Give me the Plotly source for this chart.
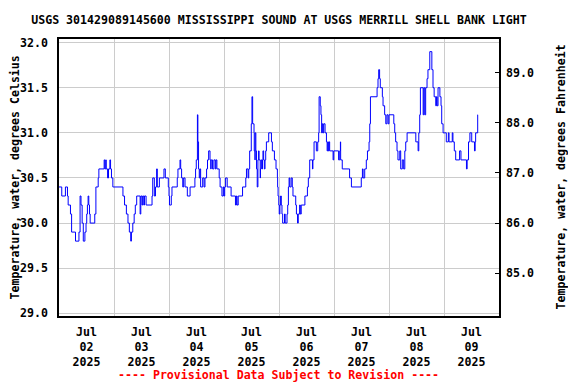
import pandas as pd
import plotly.graph_objects as go

# hours since 2025-07-02 00:00 at which the reading changes, and the reading (deg C)
hours = [
    0.0, 1.2, 2.8, 3.7, 4.0, 5.0, 5.5, 7.2, 8.7, 9.2, 9.6, 10.1, 10.6, 11.3, 11.8, 12.1,
    12.4, 12.7, 13.0, 13.3, 13.6, 15.6, 16.1, 17.1, 17.4, 19.7, 20.0, 20.4, 20.6, 21.2,
    21.6, 22.2, 22.5, 22.9, 23.5, 27.9, 28.6, 29.4, 30.1, 30.7, 31.3, 31.6, 32.2, 32.8,
    33.3, 33.9, 35.4, 35.7, 36.2, 36.5, 37.0, 37.3, 38.0, 40.6, 40.9, 41.6, 42.1, 42.6,
    42.9, 43.8, 45.8, 46.4, 47.7, 48.0, 48.2, 49.0, 49.3, 51.6, 51.9, 52.8, 53.1, 53.5,
    54.0, 54.4, 55.0, 56.0, 57.2, 59.3, 59.6, 59.9, 60.4, 60.6, 60.9, 61.2, 61.5, 61.8,
    62.7, 63.3, 63.7, 64.4, 64.8, 65.3, 65.9, 66.2, 66.4, 67.0, 67.6, 68.2, 68.5, 68.9,
    69.9, 70.3, 71.1, 71.7, 72.0, 72.3, 72.7, 73.4, 75.1, 77.0, 77.4, 77.7, 78.2, 80.1,
    81.5, 81.8, 82.5, 82.8, 83.2, 83.9, 84.2, 84.5, 85.1, 85.2, 85.5, 85.6, 85.9, 86.2,
    86.5, 86.8, 87.1, 87.3, 87.8, 87.9, 88.2, 88.5, 88.8, 89.0, 89.3, 89.6, 89.9, 90.2,
    90.5, 91.5, 92.7, 93.1, 94.0, 94.7, 95.3, 95.4, 95.6, 95.9, 96.1, 96.4, 96.7, 97.0,
    97.3, 97.6, 98.4, 98.7, 99.5, 99.8, 100.1, 100.4, 100.7, 101.3, 101.8, 102.1, 103.3,
    103.6, 104.1, 104.4, 105.0, 105.3, 105.7, 107.3, 108.4, 108.8, 109.4, 110.6, 110.8,
    111.3, 112.3, 112.9, 113.3, 113.5, 114.0, 114.3, 114.6, 114.9, 115.2, 115.5, 116.1,
    116.7, 117.0, 117.3, 117.5, 117.8, 118.1, 119.6, 119.9, 122.0, 122.5, 122.8, 122.9,
    123.6, 126.8, 127.6, 131.9, 132.4, 132.7, 133.4, 134.1, 134.6, 135.3, 135.6, 135.9,
    138.8, 139.2, 139.5, 139.9, 140.2, 141.1, 141.4, 142.1, 142.6, 143.1, 143.6, 144.0,
    146.1, 146.5, 146.9, 147.5, 147.9, 148.7, 149.1, 149.8, 150.4, 150.9, 151.3, 151.9,
    155.7, 156.7, 157.0, 157.4, 157.7, 158.9, 159.2, 159.6, 160.0, 160.6, 161.0, 161.8,
    162.7, 163.2, 163.7, 164.4, 164.7, 165.0, 165.4, 166.2, 166.7, 167.0, 167.6, 169.0,
    169.9, 170.2, 171.6, 171.9, 172.5, 173.1, 174.8, 175.4, 177.8, 178.1, 178.7, 179.3,
    180.1, 181.3, 181.6, 181.8, 182.7, 182.8,
]
temps_c = [
    30.4, 30.3, 30.4, 30.3, 30.2, 30.1, 29.9, 29.8, 29.9, 30.3, 30.2, 30.0, 29.8, 29.9, 30.0, 30.1,
    30.2, 30.3, 30.2, 30.1, 30.0, 30.1, 30.4, 30.5, 30.6, 30.7, 30.6, 30.7, 30.6, 30.5,
    30.6, 30.7, 30.6, 30.5, 30.4, 30.3, 30.2, 30.1, 30.0, 29.9, 29.8, 29.9, 30.0, 30.1,
    30.2, 30.3, 30.1, 30.3, 30.2, 30.3, 30.2, 30.3, 30.2, 30.3, 30.5, 30.3, 30.4, 30.6,
    30.4, 30.5, 30.6, 30.5, 30.4, 30.3, 30.2, 30.3, 30.4, 30.5, 30.6, 30.7, 30.6, 30.5,
    30.4, 30.5, 30.4, 30.3, 30.4, 30.5, 30.6, 30.7, 31.2, 30.9, 30.6, 30.5, 30.6, 30.4,
    30.5, 30.4, 30.5, 30.6, 30.7, 30.8, 30.7, 30.6, 30.7, 30.6, 30.7, 30.6, 30.7, 30.6,
    30.5, 30.4, 30.3, 30.4, 30.3, 30.4, 30.5, 30.4, 30.3, 30.2, 30.3, 30.2, 30.3, 30.4,
    30.5, 30.6, 30.5, 30.6, 30.8, 31.1, 31.4, 31.1, 31.0, 30.8, 30.7, 31.0, 30.8, 30.6,
    30.4, 30.7, 30.8, 30.7, 30.5, 30.6, 30.7, 30.6, 30.7, 30.8, 30.7, 30.6, 30.7, 30.8,
    30.9, 31.0, 30.9, 30.8, 30.7, 30.6, 30.5, 30.4, 30.3, 30.2, 30.1, 30.2, 30.3, 30.2,
    30.1, 30.0, 30.1, 30.0, 30.1, 30.2, 30.4, 30.5, 30.4, 30.5, 30.4, 30.3, 30.2,
    30.1, 30.0, 30.1, 30.2, 30.1, 30.2, 30.3, 30.4, 30.5, 30.7, 30.6, 30.7,
    30.9, 30.8, 30.9, 31.0, 31.4, 31.3, 31.2, 31.0, 31.1, 31.0, 31.1, 31.0,
    30.9, 30.8, 30.9, 30.8, 30.9, 30.8, 30.7, 30.8, 30.7, 30.8, 30.9, 30.7,
    30.6, 30.5, 30.4, 30.5, 30.6, 30.5, 30.6, 30.7, 30.8, 30.9, 31.1, 31.4,
    31.5, 31.6, 31.7, 31.6, 31.5, 31.4, 31.3, 31.2, 31.1, 31.2, 31.1, 31.2,
    31.1, 31.0, 30.9, 30.8, 30.7, 30.8, 30.6, 30.7, 30.6, 30.8, 30.9, 31.0,
    30.9, 30.8, 31.0, 31.2, 31.5, 31.2, 31.5, 31.2, 31.5, 31.6, 31.7, 31.9,
    31.7, 31.5, 31.4, 31.3, 31.4, 31.3, 31.5, 31.4, 31.3, 31.1, 31.0, 30.9,
    31.0, 30.9, 31.0, 30.9, 30.8, 30.7, 30.8, 30.7, 30.6, 30.7, 30.9, 31.0,
    30.9, 30.8, 30.9, 31.0, 31.2, 31.2,
]

day_labels = ["Jul<br>02<br>2025", "Jul<br>03<br>2025", "Jul<br>04<br>2025", "Jul<br>05<br>2025",
              "Jul<br>06<br>2025", "Jul<br>07<br>2025", "Jul<br>08<br>2025", "Jul<br>09<br>2025"]
celsius_ticks = [29.0, 29.5, 30.0, 30.5, 31.0, 31.5, 32.0]
fahrenheit_ticks = [85.0, 86.0, 87.0, 88.0, 89.0]

title_text = "USGS 301429089145600 MISSISSIPPI SOUND AT USGS MERRILL SHELL BANK LIGHT"
left_title = "Temperature, water, degrees Celsius"
right_title = "Temperature, water, degrees Fahrenheit"
footer_text = "---- Provisional Data Subject to Revision ----"

base = pd.Timestamp("2025-07-02 00:00")
times = [base + pd.Timedelta(hours=h) for h in hours]
noon_ticks = [base + pd.Timedelta(days=i, hours=12) for i in range(len(day_labels))]
midnight_grid = [base + pd.Timedelta(days=i) for i in range(1, len(day_labels))]

y_c_range = [28.97, 32.04]
y_f_range = [c * 1.8 + 32 for c in y_c_range]

FONT = "DejaVu Sans Mono"
fs = 11.6

# the page body has an 8px margin, so the figure is drawn 8px in from the window edge
OFF = 8
W, H = 576 - OFF, 384 - OFF
L, T = 51, 31
R, B = W - 491, H - 308
PW, PH = W - L - R, H - T - B


def px_x(page_x):
    return (page_x - OFF - L) / PW


def px_y(page_y):
    return 1 - (page_y - OFF - T) / PH


fig = go.Figure()
fig.add_trace(go.Scatter(x=times, y=temps_c, mode="lines", line=dict(color="#0000ff", width=1, shape="hv"),
                         showlegend=False, hoverinfo="skip"))
fig.add_trace(go.Scatter(x=[times[0]], y=[temps_c[0] * 1.8 + 32], yaxis="y2", mode="lines",
                         line=dict(color="rgba(0,0,0,0)"), showlegend=False, hoverinfo="skip"))

fig.update_layout(
    width=W, height=H,
    margin=dict(l=L, r=R, t=T, b=B, autoexpand=False),
    paper_bgcolor="white", plot_bgcolor="white",
    font=dict(family=FONT, size=fs, color="black", weight="bold"),
    title=dict(text=title_text, x=(279 - OFF) / W, xref="container", xanchor="center",
               y=1 - (20 - OFF) / H, yanchor="middle",
               font=dict(family=FONT, size=fs, color="black", weight="bold")),
    xaxis=dict(
        range=[base, base + pd.Timedelta(days=8)], automargin=False,
        tickvals=noon_ticks, ticktext=day_labels, tickmode="array",
        showgrid=False, ticks="", ticklabelstandoff=4,
        showline=True, linecolor="black", linewidth=1.5, mirror=True,
        zeroline=False,
        minor=dict(tickmode="array", tickvals=midnight_grid, showgrid=True, gridcolor="#cccccc",
                   gridwidth=1, ticks=""),
        tickfont=dict(family=FONT, size=fs, weight="bold"),
    ),
    yaxis=dict(
        range=y_c_range, tickvals=celsius_ticks, ticktext=[f"{v:.1f}" for v in celsius_ticks],
        tickmode="array", showgrid=True, gridcolor="#cccccc", gridwidth=1, ticks="", automargin=False,
        ticklabelstandoff=7, showline=True, linecolor="black", linewidth=1.5, mirror=True,
        zeroline=False, tickfont=dict(family=FONT, size=fs, weight="bold"),
    ),
    yaxis2=dict(
        range=y_f_range, overlaying="y", side="right", tickvals=fahrenheit_ticks,
        ticktext=[f"{v:.1f}" for v in fahrenheit_ticks], tickmode="array", automargin=False,
        showgrid=False, ticks="inside", ticklen=4, tickcolor="black", tickwidth=1,
        ticklabelstandoff=6, zeroline=False, showline=False,
        tickfont=dict(family=FONT, size=fs, weight="bold"),
    ),
    annotations=[
        dict(text=left_title, xref="paper", yref="paper", x=px_x(14), y=0.5,
             xanchor="center", yanchor="middle", textangle=-90, showarrow=False,
             font=dict(family=FONT, size=fs, weight="bold", color="black")),
        dict(text=right_title, xref="paper", yref="paper", x=px_x(560), y=0.5,
             xanchor="center", yanchor="middle", textangle=-90, showarrow=False,
             font=dict(family=FONT, size=fs, weight="bold", color="black")),
        dict(text=footer_text, xref="paper", yref="paper", x=px_x(278), y=px_y(375),
             xanchor="center", yanchor="middle", showarrow=False,
             font=dict(family=FONT, size=fs, weight="bold", color="red")),
    ],
)

fig.write_html("out.html")
